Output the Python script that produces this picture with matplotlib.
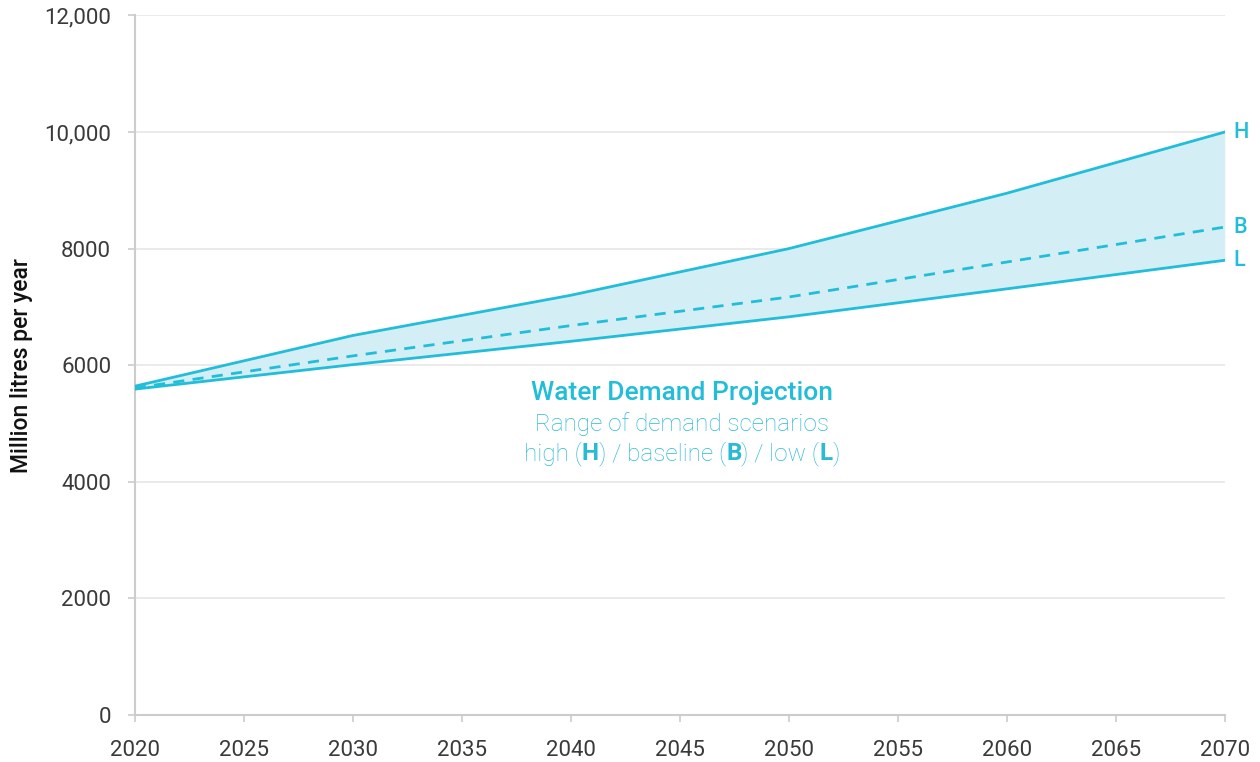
import matplotlib
matplotlib.use("Agg")
import matplotlib.pyplot as plt
from matplotlib.ticker import FuncFormatter

# 数据
years = [2020, 2030, 2040, 2050, 2060, 2070]
high = [5640, 6510, 7200, 8000, 8950, 10000]
baseline = [5610, 6160, 6680, 7170, 7770, 8370]
low = [5590, 6010, 6410, 6830, 7310, 7800]
x_ticks = list(range(2020, 2071, 5))
y_ticks = [0, 2000, 4000, 6000, 8000, 10000, 12000]

cyan = "#22bdd8"
fill_c = "#d3eff5"
grey = "#cccccc"

plt.rcParams["font.family"] = ["Roboto", "DejaVu Sans"]

fig = plt.figure(figsize=(12.6, 7.62), dpi=100)
ax = fig.add_axes([0.107, 0.0617, 0.865, 0.918])

ax.fill_between(years, low, high, color=fill_c, lw=0, zorder=1)
ax.plot(years, high, color=cyan, lw=2, zorder=3)
ax.plot(years, low, color=cyan, lw=2, zorder=3)
ax.plot(years, baseline, color=cyan, lw=2, ls=(0, (4, 3)), zorder=3)

# 末端标签
for vals, lab in [(high, "H"), (baseline, "B"), (low, "L")]:
    ax.annotate(lab, xy=(years[-1], vals[-1]), xytext=(6, 0), textcoords="offset points",
                color=cyan, fontsize=15.5, fontweight="medium", va="center", ha="left",
                annotation_clip=False)

ax.set_xlim(2020, 2070)
ax.set_ylim(0, 12000)
ax.set_xticks(x_ticks)
ax.set_yticks(y_ticks)

def fmt(v, pos):
    v = int(v)
    return f"{v:,}" if v >= 10000 else str(v)

ax.yaxis.set_major_formatter(FuncFormatter(fmt))
ax.grid(axis="y", color="#e6e6e6", lw=1.2, zorder=0)
ax.set_axisbelow(True)
for s in ["top", "right"]:
    ax.spines[s].set_visible(False)
for s in ["left", "bottom"]:
    ax.spines[s].set_color(grey)
    ax.spines[s].set_linewidth(1.5)
ax.tick_params(axis="both", colors=grey, length=5, width=1.2, labelsize=16,
               labelcolor="#3a3a3a")
ax.tick_params(axis="x", pad=13)
ax.tick_params(axis="y", pad=12)

ax.set_ylabel("Million litres per year", fontsize=16.5, fontweight="medium",
              color="#111111", labelpad=8)

# 说明文字
cx_val = 2045.1
ax.text(cx_val, 5520, "Water Demand Projection", color=cyan, fontsize=19,
        fontweight="medium", ha="center", va="center")
ax.text(cx_val, 4990, "Range of demand scenarios", color="#2bbad4", fontsize=17.5,
        fontweight="light", ha="center", va="center")
t3_parts = [("high (", "light"), ("H", "bold"), (") / baseline (", "light"), ("B", "bold"),
            (") / low (", "light"), ("L", "bold"), (")", "light")]
# 逐段拼接第三行
fig.canvas.draw()
renderer = fig.canvas.get_renderer()
pieces = []
for txt, w in t3_parts:
    t = ax.text(0, 0, txt, color="#2bbad4", fontsize=17.5, fontweight=w,
                ha="left", va="center", transform=None)
    pieces.append(t)
widths = [p.get_window_extent(renderer).width for p in pieces]
total = sum(widths)
cx, cy = ax.transData.transform((cx_val, 4490))
x0 = cx - total / 2
for p, wd in zip(pieces, widths):
    p.set_position((x0, cy))
    x0 += wd

fig.savefig("out.png", dpi=100, facecolor="white")
